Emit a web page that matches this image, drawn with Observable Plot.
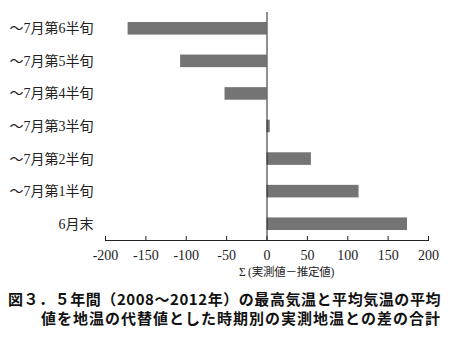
<!DOCTYPE html>
<html><head><meta charset="utf-8">
<script src="https://cdn.jsdelivr.net/npm/d3@7"></script>
<script src="https://cdn.jsdelivr.net/npm/@observablehq/plot@0.6"></script>
<style>
body{margin:0;background:#fff;}
#wrap{position:relative;width:452px;height:354px;overflow:hidden;}
#chart{position:absolute;left:0;top:0;}
.xl{position:absolute;font-family:"Liberation Serif","Noto Sans CJK JP",serif;font-size:11.5px;color:#222;white-space:nowrap;}
.cap{position:absolute;font-family:"Noto Sans CJK JP",sans-serif;font-weight:bold;font-size:15px;color:#111;white-space:nowrap;}
</style></head><body>
<div id="wrap">
<div id="chart"></div>
<span class="xl" id="xlabel" style="left:239px;top:263px;">Σ (実測値－推定値)</span>
<span class="cap" id="c1" style="left:8px;top:288px;">図３．５年間（2008～2012年）の最高気温と平均気温の平均</span>
<span class="cap" id="c2" style="left:41px;top:307px;">値を地温の代替値とした時期別の実測地温との差の合計</span>
</div>
<script>
const categories = ["～7月第6半旬","～7月第5半旬","～7月第4半旬","～7月第3半旬","～7月第2半旬","～7月第1半旬","6月末"];
const values = [-172, -107, -52, 4, 55, 114, 174];
const xTicks = [-200,-150,-100,-50,0,50,100,150,200];

const data = categories.map((c,i)=>({cat:c, v:values[i]}));

const plot = Plot.plot({
  width: 452,
  height: 262,
  marginTop: 12,
  marginBottom: 22,
  marginLeft: 105,
  marginRight: 24,
  style: {fontFamily: '"Liberation Serif","Noto Sans CJK JP",serif', fontSize: "14px", color: "#222", background: "#fff"},
  x: {domain: [-200, 200]},
  y: {domain: categories, padding: 0, round: false},
  marks: [
    Plot.barX(data, {x: "v", y: "cat", fill: "#747474", insetTop: 10, insetBottom: 10}),
    Plot.ruleX([0], {stroke: "#222", strokeWidth: 1}),
    Plot.frame({anchor: "bottom", stroke: "#222"}),
    Plot.axisX({ticks: xTicks, tickFormat: d => String(d), tickSize: -4, tickPadding: 14, label: null, fontSize: 14, stroke: "#222"}),
    Plot.axisY({tickSize: 0, tickPadding: 12, label: null, fontSize: 14})
  ]
});
document.getElementById("chart").appendChild(plot);

function fit(id, width) {
  const el = document.getElementById(id);
  const n = el.textContent.length;
  el.style.letterSpacing = "0px";
  const w = el.getBoundingClientRect().width;
  el.style.letterSpacing = Math.max(-0.3, (width - w) / n) + "px";
}
fit("xlabel", 95);
fit("c1", 433);
fit("c2", 400);
</script>
</body></html>
